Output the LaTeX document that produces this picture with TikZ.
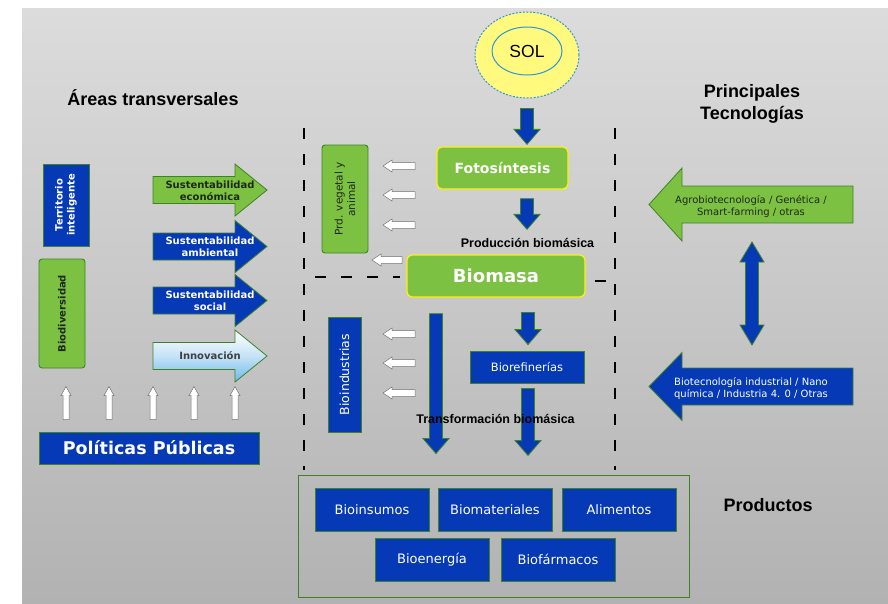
\documentclass[tikz,border=0pt]{standalone}
\usepackage{fontspec}
\setmainfont{DejaVu Sans}
\newfontfamily\libsans{Liberation Sans}
\usetikzlibrary{calc,shapes.geometric}
\definecolor{bgtop}{RGB}{220,220,220}
\definecolor{bgbot}{RGB}{178,178,178}
\definecolor{myblue}{RGB}{5,57,181}
\definecolor{mygreen}{RGB}{124,193,66}
\definecolor{dgreen}{RGB}{62,130,38}
\definecolor{myyellow}{RGB}{250,240,20}
\definecolor{sunfill}{RGB}{255,250,125}
\definecolor{sunline}{RGB}{45,150,220}
\definecolor{darktxt}{RGB}{30,40,25}
\definecolor{lblue}{RGB}{110,185,235}
\newcommand\fsz[1]{\fontsize{#1pt}{1.2\dimexpr #1pt\relax}\selectfont}
% down block arrow from point #2 (x taken) to tip y of #3
\newcommand\DnArr[3][]{\draw[blockarr,#1] let \p1=(#2), \p2=(#3) in
  (\x1-6.5pt,\y1) -- (\x1+6.5pt,\y1) -- (\x1+6.5pt,\y2+15pt) -- (\x1+13pt,\y2+15pt)
  -- (\x1,\y2) -- (\x1-13pt,\y2+15pt) -- (\x1-6.5pt,\y2+15pt) -- cycle;}
% small white left arrow from #1 (right end) to #2 (tip)
\newcommand\WlArr[2]{\draw[whitearr] let \p1=(#1), \p2=(#2) in
  (\x1,\y1+3.5pt) -- (\x2+9pt,\y1+3.5pt) -- (\x2+9pt,\y1+6pt) -- (\x2,\y1)
  -- (\x2+9pt,\y1-6pt) -- (\x2+9pt,\y1-3.5pt) -- (\x1,\y1-3.5pt) -- cycle;}
% small white up arrow from #1 (bottom) to #2 (tip)
\newcommand\WuArr[2]{\draw[whitearr] let \p1=(#1), \p2=(#2) in
  (\x1-3pt,\y1) -- (\x1-3pt,\y2-9pt) -- (\x1-5pt,\y2-9pt) -- (\x1,\y2)
  -- (\x1+5pt,\y2-9pt) -- (\x1+3pt,\y2-9pt) -- (\x1+3pt,\y1) -- cycle;}
% right block arrow: style, xtail, xtip, cy, shaft half, head half, head length
\newcommand\RtArr[7]{\draw[#1] (#2,#4-#5) -- (#3-#7,#4-#5) -- (#3-#7,#4-#6) -- (#3,#4)
  -- (#3-#7,#4+#6) -- (#3-#7,#4+#5) -- (#2,#4+#5) -- cycle;}
\newcommand\LfArr[7]{\draw[#1] (#2,#4-#5) -- (#3+#7,#4-#5) -- (#3+#7,#4-#6) -- (#3,#4)
  -- (#3+#7,#4+#6) -- (#3+#7,#4+#5) -- (#2,#4+#5) -- cycle;}
\begin{document}
\begin{tikzpicture}[x=1pt,y=-1pt,
  blockarr/.style={draw=dgreen,line width=0.8pt,fill=myblue},
  whitearr/.style={draw=black!55,line width=0.5pt,fill=white},
  bluebox/.style={draw=dgreen,line width=0.9pt,fill=myblue,text=white,inner sep=0pt},
  greenbox/.style={draw=dgreen,line width=0.9pt,fill=mygreen,text=darktxt,rounded corners=3pt,inner sep=0pt},
  yelbox/.style={draw=myyellow,line width=1.3pt,fill=mygreen,text=white,rounded corners=5pt,font=\bfseries,inner sep=0pt},
  dashln/.style={line width=2.5pt,dash pattern=on 11pt off 15pt},
  heading/.style={font=\libsans\bfseries\fsz{18},text=black,align=center,inner sep=0pt},
  midlbl/.style={font=\libsans\bfseries\fsz{12.5},text=black,inner sep=0pt},
  prodbox/.style={bluebox,minimum width=114,minimum height=43,font=\fsz{13}},
  arrtxt/.style={font=\bfseries\fsz{10},align=center,inner sep=0pt,text=white},
  techtxt/.style={font=\fsz{10},align=center,inner sep=0pt}]
\useasboundingbox (0,0) rectangle (888,603);
\shade[top color=bgtop,bottom color=bgbot] (22,8) rectangle (888,603);

% headings
\node[heading] (areas) at (153,98) {Áreas transversales};
\node[heading] (princ) at (752,104) {Principales\\Tecnologías};
\node[heading] (prodtit) at (768,505) {Productos};

% dashed frame
\draw[dashln] (304,128) -- (304,470);
\draw[dashln] (615,128) -- (615,470);
\draw[dashln] (315,277) -- (400,277);
\draw[line width=2.5pt] (595,281) -- (606,281);

% sun
\node[ellipse,draw=sunline,line width=1pt,dash pattern=on 2pt off 1.5pt,fill=sunfill,
  minimum width=104,minimum height=86,inner sep=0pt] (solout) at (527,55) {};
\node[ellipse,draw=sunline,line width=1pt,minimum width=70,minimum height=48,inner sep=0pt,
  font=\libsans\fsz{17.5}] (sol) at (527,51) {SOL};

% central column
\node[yelbox,minimum width=131,minimum height=42,font=\bfseries\fsz{14}] (foto) at (502.5,168) {Fotosíntesis};
\node[yelbox,minimum width=178,minimum height=42,font=\bfseries\fsz{18}] (biomasa) at (496,276) {Biomasa};
\node[midlbl] (prodlbl) at (527.5,243) {Producción biomásica};
\node[greenbox,rotate=90,minimum width=108,minimum height=46,align=center,font=\fsz{10.5}] (prd) at (345,199) {Prd. vegetal y\\animal};
\node[bluebox,rotate=90,minimum width=115,minimum height=33,font=\fsz{12.5}] (bioind) at (344.5,374.5) {Bioindustrias};
\node[bluebox,minimum width=114,minimum height=32,font=\fsz{11.5}] (biore) at (527,367) {Biorefinerías};

\DnArr{$(solout.south)+(0,10)$}{$(foto.north)+(0,-2)$}
\DnArr{$(foto.south)+(24.5,9)$}{$(biomasa.north)+(0,-25)$}
\DnArr{$(biomasa.south)+(-60,16)$}{$(biore.north)+(0,103)$}
\DnArr{$(biore.north)+(1,-38)$}{$(biore.north)+(0,-6)$}
\DnArr{$(biore.south)+(1,5)$}{$(biore.south)+(0,72)$}
\node[midlbl,font=\libsans\bfseries\fsz{12.5}] (translbl) at (495.5,419) {Transformación biomásica};

\WlArr{$(prd.center)+(70,-33)$}{$(prd.center)+(38,-33)$}
\WlArr{$(prd.center)+(70,-4)$}{$(prd.center)+(38,-4)$}
\WlArr{$(prd.center)+(70,26)$}{$(prd.center)+(38,26)$}
\WlArr{$(prd.center)+(57,61)$}{$(prd.center)+(27,61)$}
\WlArr{$(bioind.center)+(70.5,-40.5)$}{$(bioind.center)+(38.5,-40.5)$}
\WlArr{$(bioind.center)+(70.5,-11.5)$}{$(bioind.center)+(38.5,-11.5)$}
\WlArr{$(bioind.center)+(70.5,18.5)$}{$(bioind.center)+(38.5,18.5)$}

% products
\node[draw=dgreen,line width=1pt,minimum width=391,minimum height=122,inner sep=0pt] (prodframe) at (493.5,536) {};
\node[prodbox] (bioins) at (372,509.5) {Bioinsumos};
\node[prodbox] (biomat) at (495,509.5) {Biomateriales};
\node[prodbox] (alim) at (619,509.5) {Alimentos};
\node[prodbox] (bioen) at (432,559.5) {Bioenergía};
\node[prodbox] (biofar) at (558,559.5) {Biofármacos};

% left column
\node[bluebox,rotate=90,minimum width=82,minimum height=46,align=center,font=\bfseries\fsz{10}] (terr) at (66,205) {Territorio\\inteligente};
\node[greenbox,rotate=90,minimum width=109,minimum height=46,font=\bfseries\fsz{10}] (biodiv) at (62,313.5) {Biodiversidad};

\RtArr{draw=dgreen,line width=0.8pt,fill=mygreen}{153}{267}{190}{13.5}{26}{32}
\RtArr{draw=dgreen,line width=0.8pt,fill=myblue}{153}{267}{246.5}{13.5}{26}{32}
\RtArr{draw=dgreen,line width=0.8pt,fill=myblue}{153}{267}{300.5}{13.5}{26}{32}
\RtArr{draw=dgreen,line width=0.8pt,top color=white,bottom color=lblue,middle color=white!60!lblue}{153}{267}{356}{13.5}{26}{32}
\node[arrtxt,text=darktxt] (sust1) at (210,190.5) {Sustentabilidad\\económica};
\node[arrtxt] (sust2) at (210,246.5) {Sustentabilidad\\ambiental};
\node[arrtxt] (sust3) at (210,300.5) {Sustentabilidad\\social};
\node[arrtxt,text=black!75] (innov) at (210,356) {Innovación};

\node[bluebox,minimum width=220,minimum height=32,font=\bfseries\fsz{17.5}] (policy) at (149,448) {Políticas Públicas};
\foreach \dx [count=\i] in {-83,-40,4,45,86}{
  \WuArr{$(policy.north)+(\dx,-12)$}{$(policy.north)+(\dx,-45)$}
}

% right column
\LfArr{draw=dgreen,line width=0.8pt,fill=mygreen}{853}{649}{204.5}{18.5}{36.5}{33}
\LfArr{draw=dgreen,line width=0.8pt,fill=myblue}{853}{649}{386.5}{18.5}{34}{33}
\node[techtxt,text=darktxt] (agro) at (751,206.5) {Agrobiotecnología / Genética /\\Smart-farming / otras};
\node[techtxt,text=white] (biotec) at (751,388.5) {Biotecnología industrial / Nano\\química / Industria 4. 0 / Otras};
\coordinate (dtop) at (752,242);
\coordinate (dbot) at (752,345);
\draw[blockarr] let \p1=(dtop), \p2=(dbot) in
  (\x1-6.5pt,\y1-20pt) -- (\x1-12pt,\y1-20pt) -- (\x1,\y1) -- (\x1+12pt,\y1-20pt) -- (\x1+6.5pt,\y1-20pt)
  -- (\x1+6.5pt,\y2+20pt) -- (\x1+12pt,\y2+20pt) -- (\x1,\y2) -- (\x1-12pt,\y2+20pt) -- (\x1-6.5pt,\y2+20pt) -- cycle;
\end{tikzpicture}
\end{document}
